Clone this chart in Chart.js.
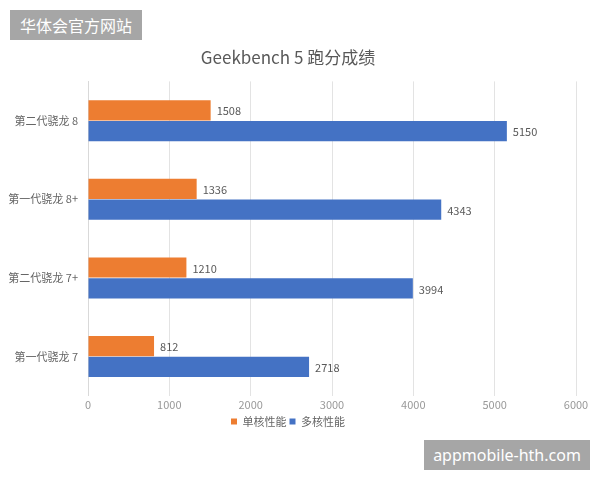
<!DOCTYPE html>
<html><head><meta charset="utf-8">
<script src="https://cdn.jsdelivr.net/npm/chart.js@4/dist/chart.umd.min.js"></script>
<style>
html,body{margin:0;padding:0;background:#fff;}
#wrap{position:relative;width:600px;height:480px;}
canvas{position:absolute;left:0;top:0;}
.wm{position:absolute;background:#a6a6a6;color:#fff;font-family:"Noto Sans CJK SC","Noto Sans",sans-serif;}
#wm1{left:10px;top:10px;width:132px;height:30px;line-height:30px;font-size:16px;text-align:center;}
#wm2{left:424px;top:440px;width:166px;height:30px;line-height:30px;font-size:16px;text-align:center;font-family:"Noto Sans",sans-serif;}
</style></head>
<body><div id="wrap"><canvas id="c" width="600" height="480"></canvas>
<div class="wm" id="wm1">华体会官方网站</div>
<div class="wm" id="wm2">appmobile-hth.com</div></div>
<script>
const categories = ["第二代骁龙 8", "第一代骁龙 8+", "第二代骁龙 7+", "第一代骁龙 7"];
const singleCore = [1508, 1336, 1210, 812];
const multiCore = [5150, 4343, 3994, 2718];
const seriesNames = ["单核性能", "多核性能"];
const xTicks = [0, 1000, 2000, 3000, 4000, 5000, 6000];
const FONT = '"Noto Sans CJK SC","Noto Sans",sans-serif';

const labelPlugin = {
  id: 'valLabels',
  afterDatasetsDraw(chart) {
    const ctx = chart.ctx;
    ctx.save();
    ctx.font = '11px ' + FONT;
    ctx.fillStyle = '#595959';
    ctx.textBaseline = 'middle';
    chart.data.datasets.forEach((ds, i) => {
      chart.getDatasetMeta(i).data.forEach((bar, j) => {
        ctx.fillText(String(ds.data[j]), bar.x + 6, bar.y + 1);
      });
    });
    ctx.restore();
  }
};

new Chart(document.getElementById('c'), {
  type: 'bar',
  data: {
    labels: categories,
    datasets: [
      {label: seriesNames[0], data: singleCore, backgroundColor: '#ED7D31'},
      {label: seriesNames[1], data: multiCore, backgroundColor: '#4472C4'}
    ]
  },
  options: {
    indexAxis: 'y',
    responsive: false,
    animation: false,
    devicePixelRatio: 1,
    categoryPercentage: 0.53,
    barPercentage: 0.97,
    layout: {padding: {left: 0, right: 24, top: 47, bottom: 43}},
    plugins: {
      title: {display: true, text: 'Geekbench 5 跑分成绩', color: '#595959', font: {family: FONT, size: 17, weight: 'normal'}, padding: {top: 0, bottom: 14}},
      legend: {position: 'bottom', labels: {boxWidth: 6, boxHeight: 6, color: '#666', font: {family: FONT, size: 11}, padding: 3}},
      tooltip: {enabled: false}
    },
    scales: {
      x: {
        min: 0, max: 6000,
        afterBuildTicks: s => { s.ticks = xTicks.map(v => ({value: v})); },
        grid: {color: '#e3e3e3', drawTicks: false},
        border: {display: false},
        ticks: {color: '#999', font: {family: FONT, size: 11}, padding: 2, callback: v => String(v)}
      },
      y: {
        afterFit: s => { s.width = 88; },
        grid: {display: false, drawTicks: false},
        border: {color: '#d9d9d9'},
        ticks: {color: '#666', font: {family: FONT, size: 11}, padding: 10}
      }
    }
  },
  plugins: [labelPlugin]
});
</script></body></html>
